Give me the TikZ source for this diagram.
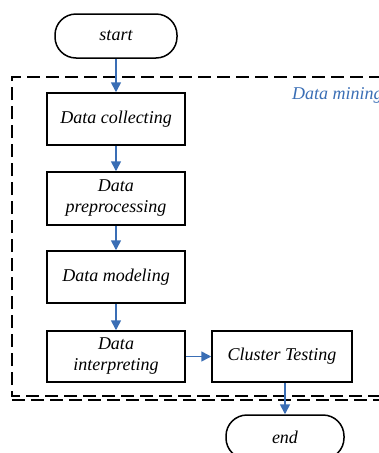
\documentclass[tikz,border=0pt]{standalone}
\usepackage{fontspec}
\setmainfont{Liberation Serif}
\usetikzlibrary{arrows.meta}
\definecolor{arrblue}{RGB}{58,110,181}
\begin{document}
\begin{tikzpicture}[x=1pt,y=-1pt,
  procbox/.style={draw=black,line width=1.5pt,minimum width=138pt,minimum height=52pt,align=center,font=\fontsize{18}{21}\selectfont\itshape,inner sep=2pt},
  termbox/.style={draw=black,line width=1.5pt,rounded corners=21pt,minimum width=122pt,minimum height=44pt,font=\fontsize{18}{21}\selectfont\itshape},
  flow/.style={draw=arrblue,line width=1.6pt,-{Triangle[width=10pt,length=10pt]}},
  grpline/.style={line width=1.8pt,dash pattern=on 13pt off 6pt}]
\useasboundingbox (0,0) rectangle (378,453);
\node[termbox] (start) at (116,36) {start};
\node[procbox] (collect) at (116,119) {Data collecting};
\node[procbox,minimum height=53pt] (prep) at (116,198.5) {Data\\preprocessing};
\node[procbox] (model) at (116,277) {Data modeling};
\node[procbox,minimum height=51pt] (interp) at (116,356.5) {Data\\interpreting};
\node[procbox,minimum width=140pt,minimum height=51pt] (cluster) at (282,356.5) {Cluster Testing};
\node[termbox,minimum width=118pt] (end) at (285,437) {end};
\coordinate (gtl) at (12,77);
\coordinate (gbr) at (400,396);
\draw[grpline] (gbr) -| (gtl) -| (gbr) -- cycle;
\coordinate (g2l) at (12,400);
\coordinate (g2r) at (400,400);
\draw[grpline] (g2l) -- (g2r);
\node[anchor=west,text=arrblue,font=\fontsize{18}{21}\selectfont\itshape,inner sep=0pt] (dm) at (292,95) {Data mining};
\draw[flow] (start) -- (collect);
\draw[flow] (collect) -- (prep);
\draw[flow] (prep) -- (model);
\draw[flow] (model) -- (interp);
\draw[flow] (interp) -- (cluster);
\draw[flow] (cluster.south -| end.north) -- (end.north);
\end{tikzpicture}
\end{document}
